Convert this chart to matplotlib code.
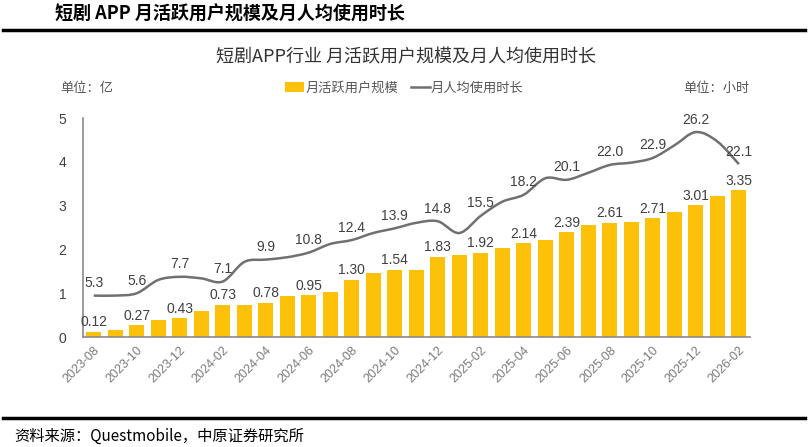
import numpy as np
import matplotlib
matplotlib.use('Agg')
import matplotlib.pyplot as plt
from matplotlib.patches import Patch, PathPatch
from matplotlib.path import Path
from matplotlib.lines import Line2D

plt.rcParams['font.family'] = ['Liberation Sans', 'Noto Sans CJK SC', 'DejaVu Sans']

# ----------------------------------------------------------------------------
# data

months = ['2023-08', '2023-09', '2023-10', '2023-11', '2023-12',
          '2024-01', '2024-02', '2024-03', '2024-04', '2024-05', '2024-06',
          '2024-07', '2024-08', '2024-09', '2024-10', '2024-11', '2024-12',
          '2025-01', '2025-02', '2025-03', '2025-04', '2025-05', '2025-06',
          '2025-07', '2025-08', '2025-09', '2025-10', '2025-11', '2025-12',
          '2026-01', '2026-02']

# 月活跃用户规模 (亿)
mau = [0.12, 0.16, 0.27, 0.38, 0.43, 0.60, 0.73, 0.74, 0.78, 0.93, 0.95,
       1.03, 1.30, 1.46, 1.54, 1.52, 1.83, 1.88, 1.92, 2.04, 2.14, 2.22,
       2.39, 2.55, 2.61, 2.63, 2.71, 2.85, 3.01, 3.22, 3.35]

# 月人均使用时长 (小时)
hours = [5.3, 5.3, 5.6, 7.3, 7.7, 7.5, 7.1, 9.6, 9.9, 10.2, 10.8,
         11.9, 12.4, 13.3, 13.9, 14.6, 14.8, 13.3, 15.5, 17.3, 18.2, 20.3,
         20.1, 21.0, 22.0, 22.3, 22.9, 24.5, 26.2, 25.0, 22.1]

# only every other month gets a label
label_idx = list(range(0, len(months), 2))

title_top = '短剧 APP 月活跃用户规模及月人均使用时长'
title_chart = '短剧APP行业 月活跃用户规模及月人均使用时长'
source = '资料来源：Questmobile，中原证券研究所'

# ----------------------------------------------------------------------------

def smooth_path(xs, ys, k=1/6.):
   # catmull-rom through the points, drawn as cubic beziers
   xs = np.asarray(xs, float)
   ys = np.asarray(ys, float)
   n = len(xs)
   verts = [(xs[0], ys[0])]
   codes = [Path.MOVETO]
   for i in range(n - 1):
      i0 = max(i - 1, 0)
      i3 = min(i + 2, n - 1)
      c1 = (xs[i] + (xs[i+1] - xs[i0]) * k, ys[i] + (ys[i+1] - ys[i0]) * k)
      c2 = (xs[i+1] - (xs[i3] - xs[i]) * k, ys[i+1] - (ys[i3] - ys[i]) * k)
      verts += [c1, c2, (xs[i+1], ys[i+1])]
      codes += [Path.CURVE4] * 3
   return Path(verts, codes)

bar_c = '#FCC108'
line_c = '#707070'
txt_c = '#404040'

fig = plt.figure(figsize=(8.09, 4.47), dpi=100)
ax = fig.add_axes([0.1026, 0.246, 0.824, 0.490])
ax2 = ax.twinx()

x = np.arange(len(months))
ax.bar(x, mau, width=0.7, color=bar_c, zorder=2)
ax2.add_patch(PathPatch(smooth_path(x, hours), facecolor='none',
                        edgecolor=line_c, lw=1.8, zorder=3))

ax.set_xlim(-0.5, len(months) - 0.5)
ax.set_ylim(0, 5)
ax2.set_ylim(0, 28)
ax2.axis('off')

for i in label_idx:
   ax.text(x[i], mau[i] + 0.06, '%.2f' % mau[i], ha='center', va='bottom',
           fontsize=10, color=txt_c, zorder=4)
   ax2.text(x[i], hours[i] + 0.7, '%.1f' % hours[i], ha='center', va='bottom',
            fontsize=10, color=txt_c, zorder=4)

ax.set_xticks(x[label_idx])
ax.set_xticklabels([months[i] for i in label_idx], rotation=45, ha='right',
                   rotation_mode='anchor', fontsize=9, color='#7a7a7a')
ax.set_yticks(range(6))
ax.tick_params(axis='y', length=0, labelsize=10, labelcolor=txt_c, pad=12)
ax.tick_params(axis='x', length=0, pad=5)
for s in ['top', 'right']:
   ax.spines[s].set_visible(False)
for s in ['left', 'bottom']:
   ax.spines[s].set_color('#8a8a8a')
   ax.spines[s].set_linewidth(1.2)

# ----------------------------------------------------------------------------
# titles, legend, units, source

fig.text(0.068, 0.968, title_top, fontsize=13, fontweight='bold',
         family=['Noto Sans CJK SC'], va='center', ha='left')
fig.add_artist(Line2D([0.004, 0.995], [0.933, 0.933], color='black', lw=2.5,
                      transform=fig.transFigure))
fig.text(0.502, 0.872, title_chart, fontsize=13, color='#333333',
         family=['Noto Sans CJK SC'], va='center', ha='center')
fig.text(0.074, 0.803, '单位：亿', fontsize=9.5, color='#555555',
         family=['Noto Sans CJK SC'], va='center', ha='left')
fig.text(0.927, 0.803, '单位：小时', fontsize=9.5, color='#555555',
         family=['Noto Sans CJK SC'], va='center', ha='right')

handles = [Patch(facecolor=bar_c, edgecolor='none'),
           Line2D([], [], color=line_c, lw=1.8)]
leg = fig.legend(handles, ['月活跃用户规模', '月人均使用时长'], loc='center',
                 bbox_to_anchor=(0.5, 0.803), ncol=2, frameon=False,
                 prop={'family': 'Noto Sans CJK SC', 'size': 9.5},
                 handlelength=1.4, handletextpad=0.1, columnspacing=1.0)
for t in leg.get_texts():
   t.set_color('#555555')

fig.add_artist(Line2D([0.004, 0.995], [0.065, 0.065], color='black', lw=2.5,
                      transform=fig.transFigure))
fig.text(0.018, 0.025, source, fontsize=11, color='black',
         family=['Noto Sans CJK SC'], va='center', ha='left')

fig.savefig('out.png', dpi=100)
